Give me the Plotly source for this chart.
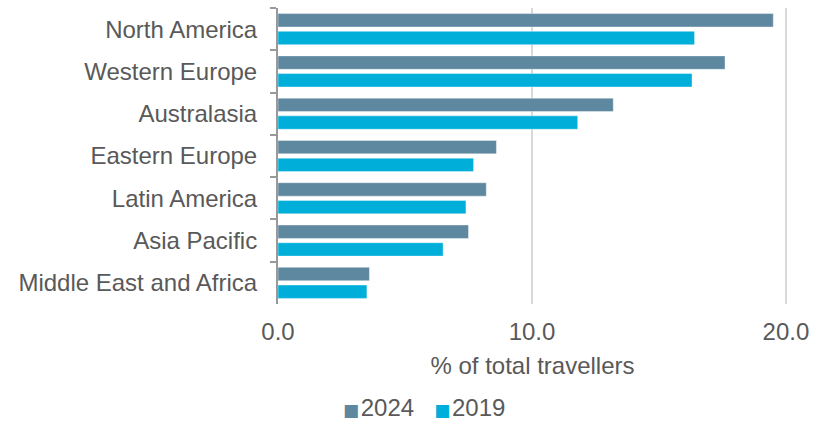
import plotly.graph_objects as go

# Share of total travellers by region of origin
regions = ["North America", "Western Europe", "Australasia", "Eastern Europe",
           "Latin America", "Asia Pacific", "Middle East and Africa"]
share_2024 = [19.5, 17.6, 13.2, 8.6, 8.2, 7.5, 3.6]
share_2019 = [16.4, 16.3, 11.8, 7.7, 7.4, 6.5, 3.5]
x_ticks = [0, 10, 20]
x_tick_labels = ["0.0", "10.0", "20.0"]

C2024 = "#5E87A0"
C2019 = "#00AEDA"
TEXT = "#595959"
FONT = "Liberation Sans, Arial, sans-serif"

fig = go.Figure()
fig.add_trace(go.Bar(
    y=regions, x=share_2024, name="2024", orientation="h",
    marker=dict(color=C2024, line=dict(color="rgba(255,255,255,0.5)", width=0.8)),
))
fig.add_trace(go.Bar(
    y=regions, x=share_2019, name="2019", orientation="h",
    marker=dict(color=C2019, line=dict(color="rgba(255,255,255,0.5)", width=0.8)),
))

# Legend written as a single line of text with coloured square glyphs
legend_text = (
    f"<span style='color:{C2024};font-family:DejaVu Sans;font-size:17px'>■&#8202;</span>2024"
    f"&#160;&#160;&#160;"
    f"<span style='color:{C2019};font-family:DejaVu Sans;font-size:17px'>■&#8202;</span>2019"
)

fig.update_layout(
    width=825, height=421,
    margin=dict(l=278, r=38, t=8, b=117),
    paper_bgcolor="white", plot_bgcolor="white",
    barmode="group", bargap=0.163, bargroupgap=0.243,
    showlegend=False,
    font=dict(family=FONT, size=24, color=TEXT),
    xaxis=dict(
        range=[0, 20.04], tickvals=x_ticks, ticktext=x_tick_labels,
        showgrid=True, gridcolor="#D9D9D9", gridwidth=2,
        zeroline=False, showline=False, ticks="",
        ticklabelstandoff=11,
        title=dict(text="% of total travellers", standoff=13,
                   font=dict(family=FONT, size=24, color=TEXT)),
        tickfont=dict(family=FONT, size=24, color=TEXT),
    ),
    yaxis=dict(
        autorange="reversed", showline=True, linecolor="#999999", linewidth=2,
        ticks="outside", tickson="boundaries", ticklen=6, tickcolor="#999999",
        tickwidth=2, showgrid=False, ticklabelstandoff=14,
        tickfont=dict(family=FONT, size=24, color=TEXT),
    ),
    annotations=[dict(
        text=legend_text, xref="paper", yref="paper", x=0.287, y=-0.351,
        xanchor="center", yanchor="middle", showarrow=False,
        font=dict(family=FONT, size=24, color=TEXT),
    )],
)

fig.write_html("out.html")
